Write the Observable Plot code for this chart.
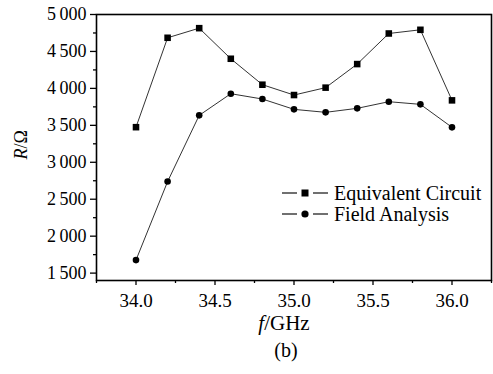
<!DOCTYPE html>
<html><head><meta charset="utf-8">
<script src="https://cdn.jsdelivr.net/npm/d3@7"></script>
<script src="https://cdn.jsdelivr.net/npm/@observablehq/plot@0.6"></script>
<style>
body{margin:0;background:#fff;}
#wrap{position:relative;width:493px;height:374px;font-family:'Liberation Serif','Times New Roman',serif;color:#000;}
.leg{position:absolute;left:281px;font-size:20px;display:flex;align-items:center;height:22px;line-height:22px;font-family:'Liberation Serif',serif;}
.leg svg{margin-right:5px;}
</style></head><body><div id="wrap"></div>
<script>
const freq = [34.0, 34.2, 34.4, 34.6, 34.8, 35.0, 35.2, 35.4, 35.6, 35.8, 36.0];
const equivalentCircuit = [3475, 4685, 4815, 4401, 4050, 3910, 4010, 4329, 4743, 4793, 3838];
const fieldAnalysis = [1676, 2739, 3635, 3928, 3856, 3716, 3676, 3730, 3820, 3784, 3473];
const seriesNames = ["Equivalent Circuit", "Field Analysis"];
const xTicks = [34.0, 34.5, 35.0, 35.5, 36.0];
const xMinorTicks = [33.75, 34.25, 34.75, 35.25, 35.75, 36.25];
const yTicks = [1500, 2000, 2500, 3000, 3500, 4000, 4500, 5000];
const yMinorTicks = [1750, 2250, 2750, 3250, 3750, 4250, 4750];
const xLabel = "f/GHz";
const yLabel = "R/\u03A9";
const caption = "(b)";

const eq = freq.map((f, i) => ({f, r: equivalentCircuit[i], s: seriesNames[0]}));
const fa = freq.map((f, i) => ({f, r: fieldAnalysis[i], s: seriesNames[1]}));
const fmt = d3.formatLocale({decimal: ".", thousands: "\u2009", grouping: [3], currency: ["", ""]}).format(",");

const plot = Plot.plot({
  width: 493, height: 374,
  marginLeft: 96, marginRight: 2, marginTop: 14, marginBottom: 94,
  style: "font-family: 'Liberation Serif', 'Times New Roman', serif; font-size: 16px; background: white; color: black; overflow: visible;",
  x: {domain: [33.75, 36.25]},
  y: {domain: [1400, 5000]},
  marks: [
    Plot.axisX({ticks: xTicks, tickSize: 5, tickPadding: 8, tickFormat: d => d.toFixed(1), label: null, stroke: "black", strokeWidth: 1.3, fontSize: 19}),
    Plot.axisX({ticks: xMinorTicks, tickSize: 3, tickFormat: () => "", label: null, stroke: "black", strokeWidth: 1.3}),
    Plot.axisY({ticks: yTicks, tickSize: 6, tickPadding: 4, tickFormat: fmt, label: null, stroke: "black", strokeWidth: 1.3, fontSize: 18}),
    Plot.axisY({ticks: yMinorTicks, tickSize: 3, tickFormat: () => "", label: null, stroke: "black", strokeWidth: 1.3}),
    Plot.frame({stroke: "black", strokeWidth: 1.6}),
    Plot.line(eq, {x: "f", y: "r", stroke: "#333", strokeWidth: 1}),
    Plot.line(fa, {x: "f", y: "r", stroke: "#333", strokeWidth: 1}),
    Plot.dot(eq, {x: "f", y: "r", symbol: "square", r: 3.7, fill: "black", stroke: "none"}),
    Plot.dot(fa, {x: "f", y: "r", symbol: "circle", r: 3.3, fill: "black", stroke: "none"}),
    Plot.text([xLabel], {text: d => d, frameAnchor: "bottom", dy: 49, dx: -10, fontSize: 21}),
    Plot.text([caption], {text: d => d, frameAnchor: "bottom", dy: 76, dx: -8, fontSize: 20}),
    Plot.text([yLabel], {text: d => d, frameAnchor: "left", dx: -75, dy: 12, rotate: -90, fontSize: 18})
  ]
});
document.getElementById("wrap").appendChild(plot);

// italic variable letters in axis labels
plot.querySelectorAll("text").forEach(t => {
  if (t.textContent === xLabel) t.innerHTML = '<tspan font-style="italic">f</tspan>/GHz';
  if (t.textContent === yLabel) t.innerHTML = '<tspan font-style="italic">R</tspan>/\u03A9';
});

// legend
const wrap = document.getElementById("wrap");
[[seriesNames[0], "square", 193], [seriesNames[1], "circle", 214]].forEach(([name, sym, y]) => {
  const d = document.createElement("div");
  d.className = "leg";
  d.style.top = (y - 11) + "px";
  const mark = sym === "square"
    ? '<rect x="20.5" y="7.5" width="7" height="7" fill="black"/>'
    : '<circle cx="24" cy="11" r="3.6" fill="black"/>';
  d.innerHTML = `<svg width="48" height="22"><line x1="1" x2="16" y1="11" y2="11" stroke="#222" stroke-width="1.3"/><line x1="32" x2="47" y1="11" y2="11" stroke="#222" stroke-width="1.3"/>${mark}</svg><span>${name}</span>`;
  wrap.appendChild(d);
});
</script>
</body></html>
